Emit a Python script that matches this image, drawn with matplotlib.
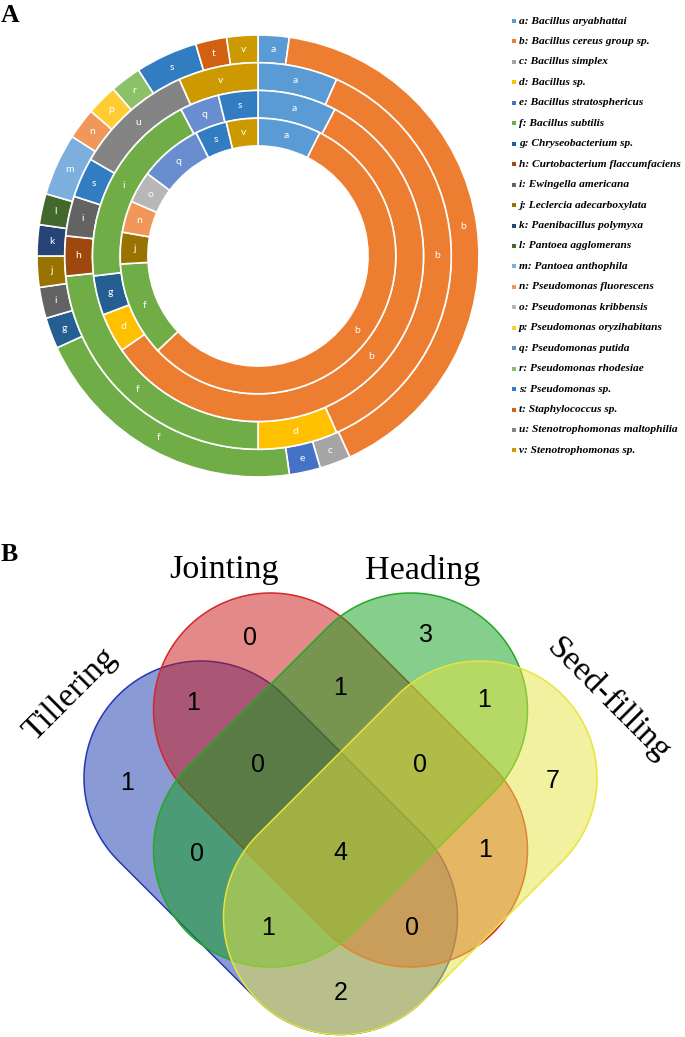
import numpy as np
import matplotlib
matplotlib.use('Agg')
import matplotlib.pyplot as plt
from matplotlib.patches import Polygon, Rectangle
from matplotlib.colors import to_rgba

# ---------------- data ----------------
species_codes = list('abcdefghijklmnopqrstuv')
species_names = ['Bacillus aryabhattai', 'Bacillus cereus group sp.', 'Bacillus simplex',
                 'Bacillus sp.', 'Bacillus stratosphericus', 'Bacillus subtilis',
                 'Chryseobacterium sp.', 'Curtobacterium flaccumfaciens', 'Ewingella americana',
                 'Leclercia adecarboxylata', 'Paenibacillus polymyxa', 'Pantoea agglomerans',
                 'Pantoea anthophila', 'Pseudomonas fluorescens', 'Pseudomonas kribbensis',
                 'Pseudomonas oryzihabitans', 'Pseudomonas putida', 'Pseudomonas rhodesiae',
                 'Pseudomonas sp.', 'Staphylococcus sp.', 'Stenotrophomonas maltophilia',
                 'Stenotrophomonas sp.']
species_colors = ['#5B9BD5', '#ED7D31', '#A5A5A5', '#FFC000', '#4472C4', '#70AD47',
                  '#255E91', '#9E480E', '#636363', '#997300', '#264478', '#43682B',
                  '#7CAFDD', '#F1975A', '#B7B7B7', '#FFCD33', '#698ED0', '#8CC168',
                  '#327DC2', '#D26012', '#848484', '#CC9A00']
color_of = dict(zip(species_codes, species_colors))

# rings, outer -> inner (clockwise from 12 o'clock)
outer_codes = ['a', 'b', 'c', 'e', 'f', 'g', 'i', 'j', 'k', 'l', 'm', 'n', 'p', 'r', 's', 't', 'v']
outer_counts = [1, 18, 1, 1, 9, 1, 1, 1, 1, 1, 2, 1, 1, 1, 2, 1, 1]
ring2_codes = ['a', 'b', 'd', 'f', 'h', 'i', 's', 'u', 'v']
ring2_counts = [2, 11, 2, 7, 1, 1, 1, 3, 2]
ring3_codes = ['a', 'b', 'd', 'g', 'f', 'q', 's']
ring3_text = ['a', 'b', 'd', 'g', 'i', 'q', 's']
ring3_counts = [2, 15, 1, 1, 5, 1, 1]
inner_codes = ['a', 'b', 'f', 'j', 'n', 'o', 'q', 's', 'v']
inner_counts = [2, 15, 3, 1, 1, 1, 2, 1, 1]

# Venn
set_names = ['Tillering', 'Jointing', 'Heading', 'Seed-filling']
region_keys = ['T', 'J', 'H', 'S', 'TJ', 'JH', 'HS', 'TH', 'JS',
               'TJH', 'JHS', 'TJHS', 'THS', 'TJS', 'TS']
region_counts = [1, 0, 3, 7, 1, 1, 1, 0, 1, 0, 0, 4, 1, 0, 2]

# ---------------- figure ----------------
W, H = 685, 1037
fig = plt.figure(figsize=(W / 100, H / 100), dpi=100)

# full-figure axes in pixel units (y down) for venn, legend and panel letters
ax2 = fig.add_axes([0, 0, 1, 1])
ax2.set_xlim(0, W)
ax2.set_ylim(H, 0)
ax2.axis('off')

# ---- panel A: nested donut ----
cx, cy, R = 258, 256, 221
ax = fig.add_axes([(cx - R) / W, (H - cy - R) / H, 2 * R / W, 2 * R / H])
ring_w = 0.1255
rings = [(outer_codes, outer_codes, outer_counts),
         (ring2_codes, ring2_codes, ring2_counts),
         (ring3_codes, ring3_text, ring3_counts),
         (inner_codes, inner_codes, inner_counts)]
for k, (codes, texts, counts) in enumerate(rings):
    rad = 1 - k * ring_w
    wedges, _ = ax.pie(counts, radius=rad, colors=[color_of[c] for c in codes],
                       startangle=90, counterclock=False,
                       wedgeprops=dict(width=ring_w, edgecolor='white', linewidth=1.2))
    for w, t in zip(wedges, texts):
        ang = np.deg2rad((w.theta1 + w.theta2) / 2)
        rr = w.r - w.width / 2
        ax.text(rr * np.cos(ang), rr * np.sin(ang), t, color='white', fontsize=7.5,
                family=['Lato', 'DejaVu Sans'], ha='center', va='center')
ax.set_xlim(-1, 1)
ax.set_ylim(-1, 1)
ax.set_aspect('equal')

# legend
for i, (c, name) in enumerate(zip(species_codes, species_names)):
    y = 21 + i * 20.45
    ax2.add_patch(Rectangle((512, y - 2), 4, 4, color=color_of[c], lw=0))
    ax2.text(519, y, f'{c}: {name}', fontsize=8.2, family='Liberation Serif',
             weight='bold', style='italic', ha='left', va='center')

ax2.text(1, 22, 'A', fontsize=18.5, family='Liberation Serif', weight='bold', va='baseline')
ax2.text(1, 561, 'B', fontsize=18.5, family='Liberation Serif', weight='bold', va='baseline')

# ---- panel B: 4-set venn ----
def capsule(c1, c2, r, n=150):
    c1 = np.asarray(c1, float)
    c2 = np.asarray(c2, float)
    th = np.arctan2(c2[1] - c1[1], c2[0] - c1[0])
    a2 = np.linspace(th - np.pi / 2, th + np.pi / 2, n)
    a1 = np.linspace(th + np.pi / 2, th + 3 * np.pi / 2, n)
    p2 = c2 + r * np.column_stack([np.cos(a2), np.sin(a2)])
    p1 = c1 + r * np.column_stack([np.cos(a1), np.sin(a1)])
    return np.vstack([p2, p1])

vr = 117
shapes = [((201, 778), (340.5, 917.5)),    # Tillering
          ((270.5, 710), (410.5, 850)),    # Jointing
          ((410.5, 710), (270.5, 850)),    # Heading
          ((480, 778), (340.5, 917.5))]    # Seed-filling
fills = ['#1737AD', '#C91515', '#0D9F19', '#E7E541']
edges = ['#2238B8', '#D42828', '#26A826', '#E8E43A']
for (c1, c2), fc, ec in zip(shapes, fills, edges):
    ax2.add_patch(Polygon(capsule(c1, c2, vr), closed=True, facecolor=to_rgba(fc, 0.5),
                          edgecolor=ec, lw=1.1))

region_pos = {'T': (127, 783), 'J': (250, 638), 'H': (426, 635), 'S': (553, 781),
              'TJ': (193, 703), 'JH': (340, 688), 'HS': (484, 700), 'TH': (197, 854),
              'JS': (485, 850), 'TJH': (258, 765), 'JHS': (420, 765), 'TJHS': (340, 853),
              'THS': (268, 928), 'TJS': (412, 928), 'TS': (341, 993)}
for key, n in zip(region_keys, region_counts):
    x, y = region_pos[key]
    ax2.text(x, y, str(n), fontsize=18, family='Liberation Sans', ha='center', va='center')

name_pos = [(70, 695, 45), (224, 570, 0), (423, 570, 0), (609, 700, -45)]
for name, (x, y, rot) in zip(set_names, name_pos):
    ax2.text(x, y, name, fontsize=24.5, family='Liberation Serif', rotation=rot,
             rotation_mode='anchor', ha='center', va='center')

fig.savefig('out.png', dpi=100)
